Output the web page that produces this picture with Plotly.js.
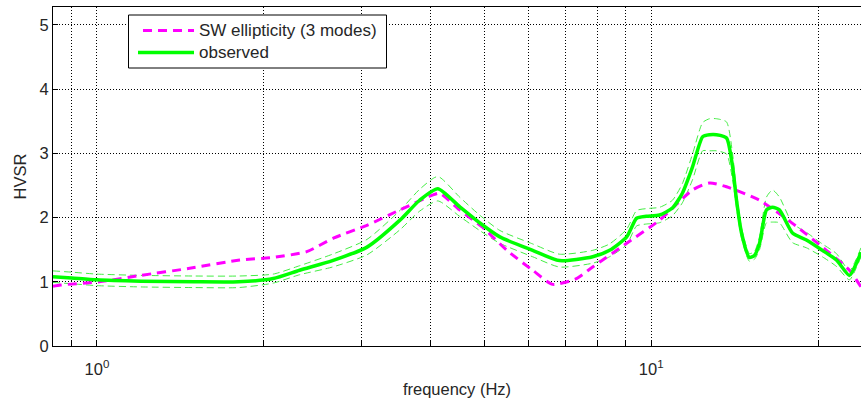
<!DOCTYPE html>
<html><head><meta charset="utf-8">
<script src="https://cdn.plot.ly/plotly-3.0.1.min.js"></script>
<style>html,body{margin:0;padding:0;background:#fff;}#plot{width:861px;height:405px;}</style>
</head><body><div id="plot"></div>
<script>
// observed HVSR (mean, upper, lower)
const obsFreq = [0.833,0.9,1.0,1.2,1.5,1.8,2.08,2.32,2.66,3.07,3.52,3.82,4.12,4.51,4.9,5.33,6.11,6.83,7.84,8.41,9.03,9.41,9.8,10.35,10.92,11.38,11.87,12.38,12.74,13.11,13.67,14.02,14.25,14.55,15.03,15.35,15.68,16.14,16.55,17.03,17.98,19.05,20.35,21.58,22.78,23.45,23.9];
const obsMean = [1.08,1.06,1.03,1.01,1.0,1.0,1.05,1.18,1.33,1.54,1.96,2.27,2.45,2.17,1.92,1.70,1.49,1.33,1.39,1.49,1.70,1.99,2.02,2.04,2.15,2.38,2.79,3.26,3.29,3.29,3.24,2.79,2.27,1.76,1.38,1.41,1.60,2.12,2.16,2.12,1.76,1.65,1.49,1.34,1.10,1.29,1.46];
const obsUpper = [1.17,1.15,1.12,1.10,1.09,1.09,1.12,1.25,1.43,1.66,2.11,2.44,2.64,2.32,2.04,1.80,1.59,1.43,1.49,1.59,1.82,2.11,2.14,2.16,2.27,2.53,2.99,3.48,3.54,3.54,3.49,2.99,2.39,1.84,1.44,1.47,1.70,2.32,2.43,2.32,1.91,1.77,1.59,1.44,1.17,1.36,1.53];
const obsLower = [0.99,0.97,0.94,0.92,0.91,0.91,0.98,1.11,1.23,1.42,1.81,2.10,2.26,2.02,1.80,1.60,1.39,1.23,1.29,1.39,1.58,1.87,1.90,1.92,2.03,2.23,2.59,3.04,3.04,3.04,2.99,2.59,2.15,1.68,1.32,1.35,1.50,1.92,1.93,1.92,1.61,1.53,1.39,1.24,1.03,1.22,1.39];
// SW ellipticity (3 modes)
const swFreq = [0.833,0.86,1.01,1.2,1.47,1.81,2.08,2.39,2.67,3.07,3.52,4.03,4.15,4.51,4.96,5.49,6.11,6.64,7.33,7.84,9.03,10.35,11.87,12.74,13.67,15.68,17.98,20.7,22.78,23.9];
const swVal = [0.93,0.95,1.0,1.1,1.21,1.34,1.38,1.47,1.68,1.88,2.12,2.35,2.38,2.12,1.85,1.49,1.18,0.96,1.05,1.23,1.6,1.96,2.43,2.54,2.48,2.27,1.91,1.49,1.18,0.92];
// axis ticks and legend labels
const xTickVals = [0.9,1,2,3,4,5,6,7,8,9,10,20];
const xTickText = ['','10<sup>0</sup>','','','','','','','','','10<sup>1</sup>',''];
const yTickVals = [0,1,2,3,4,5];
const seriesNames = ['SW ellipticity (3 modes)', 'observed'];

const W = 861, H = 405, ML = 53, MR = 0, MT = 7, MB = 59;
const PW = W - ML - MR, PH = H - MT - MB;
const px = x => (x - ML) / PW;
const py = y => 1 - (y - MT) / PH;

const font = {family:'Liberation Sans, Arial, sans-serif', size:16.5, color:'#262626'};
const legFont = {family:'Liberation Sans, Arial, sans-serif', size:17, color:'#262626'};
const SW_COLOR = '#ff00ff', OBS_COLOR = '#00ff00';

const traces = [
  {x:obsFreq, y:obsUpper, mode:'lines', showlegend:false, hoverinfo:'skip',
   line:{color:'#44ee44', width:1, dash:'7px,4px', shape:'spline', smoothing:0.6}},
  {x:obsFreq, y:obsLower, mode:'lines', showlegend:false, hoverinfo:'skip',
   line:{color:'#44ee44', width:1, dash:'7px,4px', shape:'spline', smoothing:0.6}},
  {x:swFreq, y:swVal, mode:'lines', name:seriesNames[0], showlegend:false,
   line:{color:SW_COLOR, width:3, dash:'9px,6px', shape:'spline', smoothing:0.6}},
  {x:obsFreq, y:obsMean, mode:'lines', name:seriesNames[1], showlegend:false,
   line:{color:OBS_COLOR, width:3.5, shape:'spline', smoothing:0.6}}
];

// MATLAB-style legend box drawn with shapes and annotations
const shapes = [
  {type:'rect', xref:'paper', yref:'paper', x0:px(128.5), x1:px(386.5), y0:py(68), y1:py(15),
   line:{color:'#000', width:1}, fillcolor:'#fff', layer:'above'},
  {type:'line', xref:'paper', yref:'paper', x0:px(143), x1:px(194), y0:py(30.5), y1:py(30.5),
   line:{color:SW_COLOR, width:3, dash:'9px,6px'}, layer:'above'},
  {type:'line', xref:'paper', yref:'paper', x0:px(138), x1:px(194), y0:py(52.5), y1:py(52.5),
   line:{color:OBS_COLOR, width:3.5}, layer:'above'}
];
const annotations = [
  {xref:'paper', yref:'paper', x:px(197), y:py(30.5), xanchor:'left', yanchor:'middle',
   text:seriesNames[0], showarrow:false, font:legFont},
  {xref:'paper', yref:'paper', x:px(197), y:py(52.5), xanchor:'left', yanchor:'middle',
   text:seriesNames[1], showarrow:false, font:legFont}
];

const layout = {
  width:W, height:H,
  margin:{l:ML, r:MR, t:MT, b:MB},
  paper_bgcolor:'#fff', plot_bgcolor:'#fff',
  font:font, showlegend:false,
  shapes:shapes, annotations:annotations,
  xaxis:{type:'log', range:[Math.log10(0.833), Math.log10(23.9)],
    tickmode:'array', tickvals:xTickVals, ticktext:xTickText,
    showgrid:true, gridcolor:'#000', griddash:'1px,2px', gridwidth:1,
    ticks:'inside', ticklen:5, tickcolor:'#000', ticklabelstandoff:8,
    showline:true, linecolor:'#000', linewidth:1, mirror:true,
    zeroline:false, tickfont:font,
    title:{text:'frequency (Hz)', font:font, standoff:6}},
  yaxis:{range:[0,5.28], tickmode:'array', tickvals:yTickVals,
    showgrid:true, gridcolor:'#000', griddash:'1px,2px', gridwidth:1,
    ticks:'inside', ticklen:5, tickcolor:'#000',
    showline:true, linecolor:'#000', linewidth:1, mirror:true,
    zeroline:false, tickfont:font,
    title:{text:'HVSR', font:font, standoff:8}}
};
Plotly.newPlot('plot', traces, layout, {staticPlot:true, displayModeBar:false});
</script></body></html>
